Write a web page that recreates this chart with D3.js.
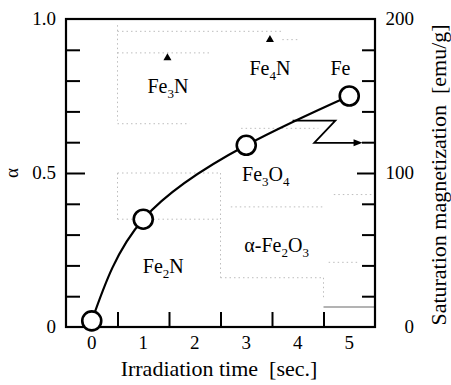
<!DOCTYPE html>
<html>
<head>
<meta charset="utf-8">
<script src="https://cdn.jsdelivr.net/npm/d3@7"></script>
<style>
  body { margin: 0; background: #fff; }
  svg text { font-family: "Liberation Serif", "Times New Roman", serif; fill: #000; }
  .axis path { display: none; }
  .axis line { stroke: #000; stroke-width: 2; }
</style>
</head>
<body>
<div id="chart"></div>
<script>
// measured points: irradiation time [sec.] vs alpha
const times = [0, 1, 3, 5];
const alphaValues = [0.02, 0.35, 0.59, 0.75];

// axis ticks
const xLabelTicks = [0, 1, 2, 3, 4, 5];
const xMarkTicks = [0.5, 1.5, 2.5, 3.5, 4.5];
const leftLabelTicks = [0, 0.5, 1.0];
const leftMarkTicks = [0.1, 0.2, 0.3, 0.4, 0.6, 0.7, 0.8, 0.9];
const rightLabelTicks = [0, 100, 200];
const rightMarkTicks = [20, 40, 60, 80, 120, 140, 160, 180];

// phase names, pieces flagged as subscript, placed in data units
const phaseNames = [
  [['Fe', 0], ['3', 1], ['N', 0]],
  [['Fe', 0], ['4', 1], ['N', 0]],
  [['Fe', 0]],
  [['Fe', 0], ['3', 1], ['O', 0], ['4', 1]],
  [['\u03b1-Fe', 0], ['2', 1], ['O', 0], ['3', 1]],
  [['Fe', 0], ['2', 1], ['N', 0]]
];
const phaseTimes = [1.48, 3.46, 4.83, 3.38, 3.59, 1.39];
const phaseAlphas = [0.76, 0.819, 0.819, 0.475, 0.244, 0.175];

// small nitride markers
const markerTimes = [1.47, 3.46];
const markerAlphas = [0.874, 0.933];

// break arrow pointing to the magnetization scale
const arrowTimes = [3.9, 4.73, 4.32, 5.2];
const arrowAlphas = [0.67, 0.67, 0.598, 0.598];

// faint dotted region outlines [t1, a1, t2, a2]
const regionLines = [
  [0.5, 0.98, 0.5, 0.67], [0.5, 0.66, 1.9, 0.66], [0.5, 0.96, 3.7, 0.96],
  [0.5, 0.89, 2.3, 0.89], [0.5, 0.5, 2.5, 0.5], [0.5, 0.5, 0.5, 0.35],
  [0.5, 0.35, 2.5, 0.35], [2.5, 0.5, 2.5, 0.16], [2.5, 0.16, 4.5, 0.16],
  [2.9, 0.645, 4.4, 0.645], [2.7, 0.39, 4.5, 0.39], [4.7, 0.43, 5.5, 0.43],
  [4.5, 0.16, 4.5, 0.09], [4.6, 0.21, 5.2, 0.21], [3.7, 0.933, 4.0, 0.933]
];
const baseLine = [4.5, 0.065, 5.5, 0.065];

const width = 451, height = 385;
const plotLeft = 66, plotRight = 375, plotTop = 19, plotBottom = 327;

const svg = d3.select('#chart').append('svg')
  .attr('width', width)
  .attr('height', height);

const x = d3.scaleLinear().domain([-0.5, 5.5]).range([plotLeft, plotRight]);
const y = d3.scaleLinear().domain([0, 1]).range([plotBottom, plotTop]);
const yR = d3.scaleLinear().domain([0, 200]).range([plotBottom, plotTop]);

// region outlines
svg.append('g').selectAll('line').data(regionLines).join('line')
  .attr('x1', d => x(d[0])).attr('y1', d => y(d[1]))
  .attr('x2', d => x(d[2])).attr('y2', d => y(d[3]))
  .attr('stroke', '#bdbdbd')
  .attr('stroke-width', 1)
  .attr('stroke-dasharray', '1.5,3');
svg.append('line')
  .attr('x1', x(baseLine[0])).attr('y1', y(baseLine[1]))
  .attr('x2', x(baseLine[2])).attr('y2', y(baseLine[3]))
  .attr('stroke', '#9a9a9a').attr('stroke-width', 1.5);

// inward tick marks
svg.append('g').attr('class', 'axis')
  .attr('transform', 'translate(0,' + plotBottom + ')')
  .call(d3.axisBottom(x).tickValues(xMarkTicks).tickSize(-15).tickFormat(''));
svg.append('g').attr('class', 'axis')
  .attr('transform', 'translate(' + plotLeft + ',0)')
  .call(d3.axisLeft(y).tickValues(leftMarkTicks).tickSize(-14).tickFormat(''));
svg.append('g').attr('class', 'axis')
  .attr('transform', 'translate(' + plotLeft + ',0)')
  .call(d3.axisLeft(y).tickValues([0.5]).tickSize(-19).tickFormat(''));
svg.append('g').attr('class', 'axis')
  .attr('transform', 'translate(' + plotRight + ',0)')
  .call(d3.axisRight(yR).tickValues(rightMarkTicks).tickSize(-13).tickFormat(''));
svg.append('g').attr('class', 'axis')
  .attr('transform', 'translate(' + plotRight + ',0)')
  .call(d3.axisRight(yR).tickValues([100]).tickSize(-18).tickFormat(''));

// frame
svg.append('rect')
  .attr('x', plotLeft).attr('y', plotTop)
  .attr('width', plotRight - plotLeft).attr('height', plotBottom - plotTop)
  .attr('fill', 'none').attr('stroke', '#000').attr('stroke-width', 2.2);

// tick labels
svg.append('g').selectAll('text').data(xLabelTicks).join('text')
  .attr('x', d => x(d)).attr('y', 349)
  .attr('text-anchor', 'middle')
  .style('font-size', '19px')
  .text(d => d);
svg.append('g').selectAll('text').data(leftLabelTicks).join('text')
  .attr('x', 56).attr('y', d => y(d)).attr('dy', '0.33em')
  .attr('text-anchor', 'end')
  .style('font-size', '19px')
  .text(d => d === 0 ? '0' : d3.format('.1f')(d));
svg.append('g').selectAll('text').data(rightLabelTicks).join('text')
  .attr('x', 414).attr('y', d => yR(d)).attr('dy', '0.33em')
  .attr('text-anchor', 'end')
  .style('font-size', '19px')
  .text(d => d);

// axis titles
svg.append('text')
  .attr('x', 219).attr('y', 376)
  .attr('text-anchor', 'middle')
  .style('font-size', '22px')
  .style('white-space', 'pre')
  .text('Irradiation time  [sec.]');
svg.append('text')
  .attr('transform', 'translate(18,' + y(0.5) + ') rotate(-90)')
  .attr('text-anchor', 'middle')
  .style('font-size', '19px')
  .text('\u03b1');
svg.append('text')
  .attr('transform', 'translate(446,' + ((plotTop + plotBottom) / 2 + 2) + ') rotate(-90)')
  .attr('text-anchor', 'middle')
  .style('font-size', '22px')
  .style('white-space', 'pre')
  .text('Saturation magnetization  [emu/g]');

// phase labels
const labels = svg.append('g').selectAll('text').data(phaseNames).join('text')
  .attr('x', (d, i) => x(phaseTimes[i]))
  .attr('y', (d, i) => y(phaseAlphas[i]))
  .attr('text-anchor', 'middle')
  .style('font-size', '20px');
labels.each(function (parts) {
  const t = d3.select(this);
  let shifted = false;
  parts.forEach(p => {
    const span = t.append('tspan').text(p[0]);
    if (p[1]) {
      span.style('font-size', '13px').attr('dy', shifted ? 0 : 5);
      shifted = true;
    } else if (shifted) {
      span.attr('dy', -5);
      shifted = false;
    }
  });
});

// nitride markers
svg.append('g').selectAll('path').data(markerTimes).join('path')
  .attr('transform', (d, i) => 'translate(' + x(d) + ',' + y(markerAlphas[i]) + ')')
  .attr('d', d3.symbol().type(d3.symbolTriangle).size(28))
  .attr('fill', '#000');

// break arrow
const arrowPts = arrowTimes.map((t, i) => [x(t), y(arrowAlphas[i])]);
svg.append('path')
  .attr('d', d3.line()(arrowPts))
  .attr('fill', 'none').attr('stroke', '#000').attr('stroke-width', 1.8);
const tip = arrowPts[arrowPts.length - 1];
svg.append('path')
  .attr('d', 'M' + (tip[0] + 3) + ',' + tip[1] + 'L' + (tip[0] - 6) + ',' + (tip[1] - 3.5) +
    'L' + (tip[0] - 6) + ',' + (tip[1] + 3.5) + 'Z')
  .attr('fill', '#000');

// fitted curve
const pts = times.map((t, i) => [x(t), y(alphaValues[i])]);
svg.append('path')
  .attr('d', d3.line().curve(d3.curveNatural)(pts))
  .attr('fill', 'none').attr('stroke', '#000').attr('stroke-width', 2.2);

// data points
svg.append('g').selectAll('circle').data(times).join('circle')
  .attr('cx', d => x(d))
  .attr('cy', (d, i) => y(alphaValues[i]))
  .attr('r', 9.5)
  .attr('fill', '#fff')
  .attr('stroke', '#000')
  .attr('stroke-width', 2.6);
</script>
</body>
</html>
